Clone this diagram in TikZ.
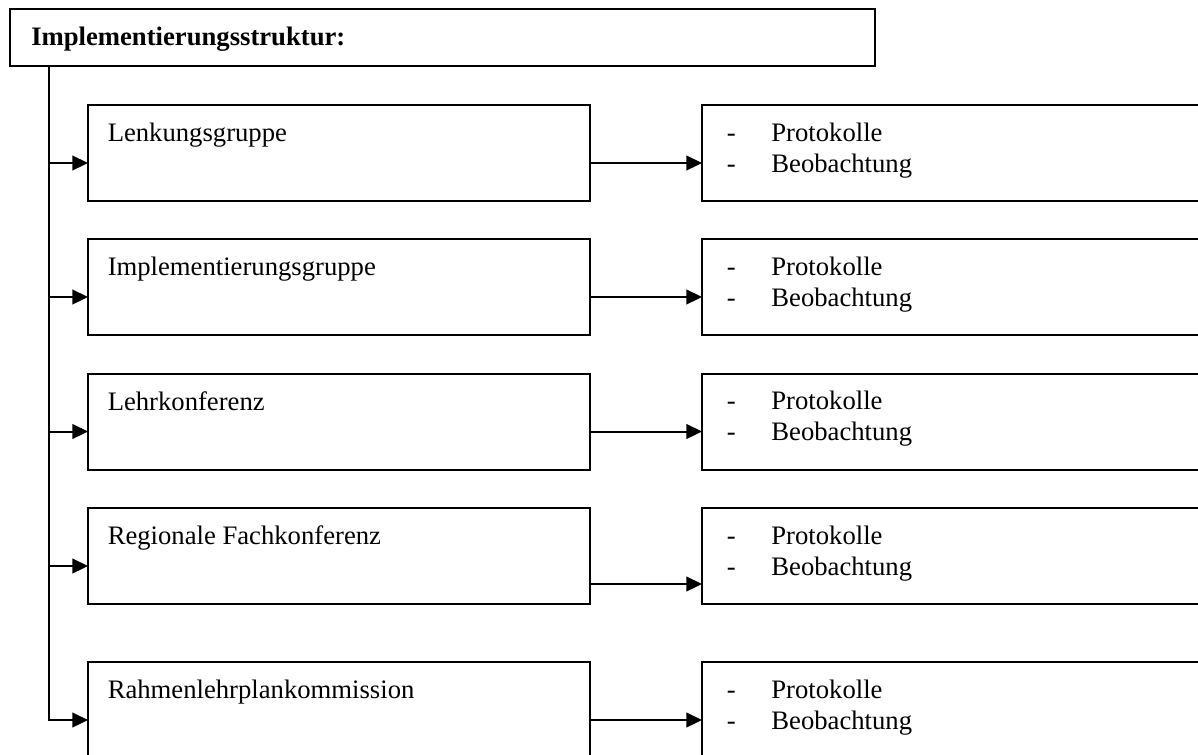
\documentclass[tikz,border=0pt]{standalone}
\usepackage{fontspec}
\setmainfont{Liberation Serif}
\usetikzlibrary{arrows.meta,calc}
\begin{document}
\begin{tikzpicture}[x=0.75pt,y=-0.75pt,
  frame/.style={draw,line width=1.5pt,inner sep=0pt,outer sep=0pt,anchor=north west,minimum height=72pt},
  lbox/.style={frame,minimum width=376.5pt},
  rbox/.style={frame,minimum width=384pt},
  lbl/.style={inner sep=0pt,anchor=base west,font=\fontsize{20}{23.5}\selectfont},
  arr/.style={line width=1.5pt,-{Triangle[length=11.7pt,width=11pt]}}]
\clip (0,0) rectangle (1198,754);
\useasboundingbox (0,0) rectangle (1198,754);
\fill[white] (0,0) rectangle (1198,754);
\node[frame,minimum width=648.75pt,minimum height=42.75pt] (title) at (10,9) {};
\node[lbl,font=\fontsize{20}{23.5}\selectfont\bfseries] (titletext) at (31,45.7) {Implementierungsstruktur:};
\coordinate (trunk) at (49,720);
\foreach \i/\top/\name/\ra in {1/105/Lenkungsgruppe/58, 2/239/Implementierungsgruppe/58, 3/373.5/Lehrkonferenz/58, 4/508/Regionale Fachkonferenz/76, 5/662/Rahmenlehrplankommission/58}{
  \node[lbox] (L\i) at (88,\top) {};
  \node[rbox] (R\i) at (702,\top) {};
  \node[lbl] (Lt\i) at (107.5,\top+36.5) {\name};
  \node[lbl] (Rp\i) at (726.5,\top+36) {\makebox[33.5pt][l]{-}Protokolle};
  \node[lbl] (Rb\i) at (726.5,\top+67) {\makebox[33.5pt][l]{-}Beobachtung};
  \coordinate (la\i) at ($(L\i.north west)+(0,58)$);
  \coordinate (ra\i) at ($(L\i.north east)+(0,\ra)$);
  \draw[arr] (ra\i) -- (R\i.west |- ra\i);
}
\draw[arr] (trunk |- title.south) |- (la5);
\foreach \i in {1,2,3,4}{
  \draw[arr] (trunk |- la\i) -- (la\i);
}
\end{tikzpicture}
\end{document}
